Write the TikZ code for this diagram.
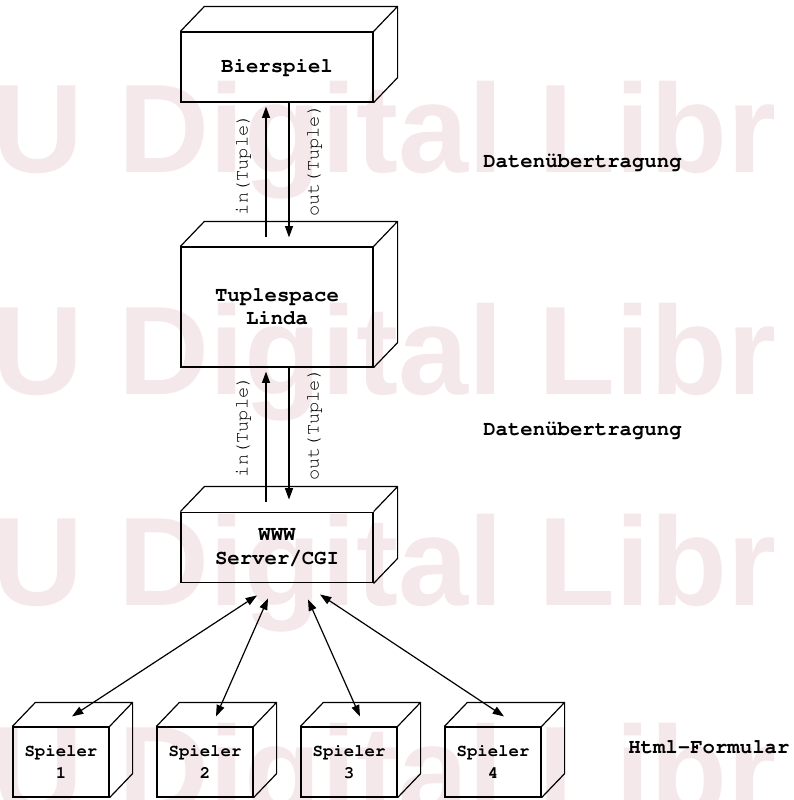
\documentclass[tikz,border=0pt]{standalone}
\usepackage[T1]{fontenc}
\usepackage{fontspec}
\newfontfamily\wmfont{Liberation Sans}
\newcommand\cour{\fontencoding{T1}\fontfamily{pcr}\selectfont}
\usetikzlibrary{arrows.meta, calc}

\definecolor{wasserzeichen}{RGB}{245,232,234}

\tikzset{
    quader/.style={draw, line width=0.9pt, align=center, inner sep=0pt,
        minimum width=144pt, font=\cour\bfseries\fontsize{15.5}{17.5}\selectfont},
    spieler/.style={quader, minimum width=72pt, minimum height=52.5pt,
        font=\cour\bfseries\fontsize{13}{16.5}\selectfont},
    kante/.style={line width=0.9pt, line join=round},
    pfeil/.style={line width=0.9pt, -{Triangle[length=8.5pt,width=6pt]}},
    doppelpfeil/.style={line width=0.9pt, {Triangle[length=8.5pt,width=6pt]}-{Triangle[length=8.5pt,width=6pt]}},
    beschriftung/.style={font=\cour\fontsize{14}{16}\selectfont, rotate=90, inner sep=0pt},
    ebene/.style={font=\cour\bfseries\fontsize{15.5}{17.5}\selectfont, anchor=west, inner sep=0pt}
}

\begin{document}
\begin{tikzpicture}[x=0.75pt,y=0.75pt,yscale=-1,xscale=1]
    \useasboundingbox (0,0) rectangle (793,800);

    %Watermark
    \begin{scope}
    \clip (0,0) rectangle (793,800);
    \foreach \y in {172,394,605,814}
        \node[anchor=base west, inner sep=0pt, text=wasserzeichen] at (-8,\y)
            {\wmfont\bfseries\fontsize{94.5}{94.5}\selectfont U Digital Libr};
    \end{scope}

    % Boxes
    \node[quader, minimum height=52.5pt] (bier) at (277,67) {Bierspiel};
    \node[quader, minimum height=90pt] (tuple) at (277,307) {Tuplespace\\Linda};
    \node[quader, minimum height=53pt] (www) at (277,547.5) {WWW\\Server/CGI};
    \node[spieler] (sp1) at (61,762) {Spieler\\1};
    \node[spieler] (sp2) at (205,762) {Spieler\\2};
    \node[spieler] (sp3) at (349,762) {Spieler\\3};
    \node[spieler] (sp4) at (493,762) {Spieler\\4};

    %Shape: top and side faces
    \foreach \n/\dx/\dy in {bier/24/25, tuple/24/25, www/24/25, sp1/23/24, sp2/23/24, sp3/23/24, sp4/23/24}
        \draw[kante] (\n.north west) -- ++(\dx,-\dy) -- ($(\n.north east)+(\dx,-\dy)$)
            -- ($(\n.south east)+(\dx,-\dy)$) -- (\n.south east) (\n.north east) -- ++(\dx,-\dy);

    %Straight Lines
    \draw[pfeil] ($(tuple.north)+(-11,-9)$) -- ($(bier.south)+(-11,4)$);
    \draw[pfeil] ($(bier.south)+(12,0)$) -- ($(tuple.north)+(12,-9)$);
    \draw[pfeil] ($(www.north)+(-11,-10)$) -- ($(tuple.south)+(-11,4)$);
    \draw[pfeil] ($(tuple.south)+(12,0)$) -- ($(www.north)+(12,-12)$);
    \foreach \s/\a/\b in {sp1/-20/12, sp2/-9/15, sp3/31/16, sp4/43/11}
        \draw[doppelpfeil] ($(www.south)+(\a,\b)$) -- ($(\s.north)+(11,-10)$);

    % Text Node
    \node[beschriftung] (in1) at ($(bier.south)+(-34,62)$) {in(Tuple)};
    \node[beschriftung] (out1) at ($(bier.south)+(37,58)$) {out(Tuple)};
    \node[beschriftung] (in2) at ($(tuple.south)+(-34,59)$) {in(Tuple)};
    \node[beschriftung] (out2) at ($(tuple.south)+(37,57)$) {out(Tuple)};
    \node[ebene] (daten1) at (483,162) {Datenübertragung};
    \node[ebene] (daten2) at (483,430) {Datenübertragung};
    \node[ebene] (html) at (628,747) {Html-Formular};

\end{tikzpicture}
\end{document}
